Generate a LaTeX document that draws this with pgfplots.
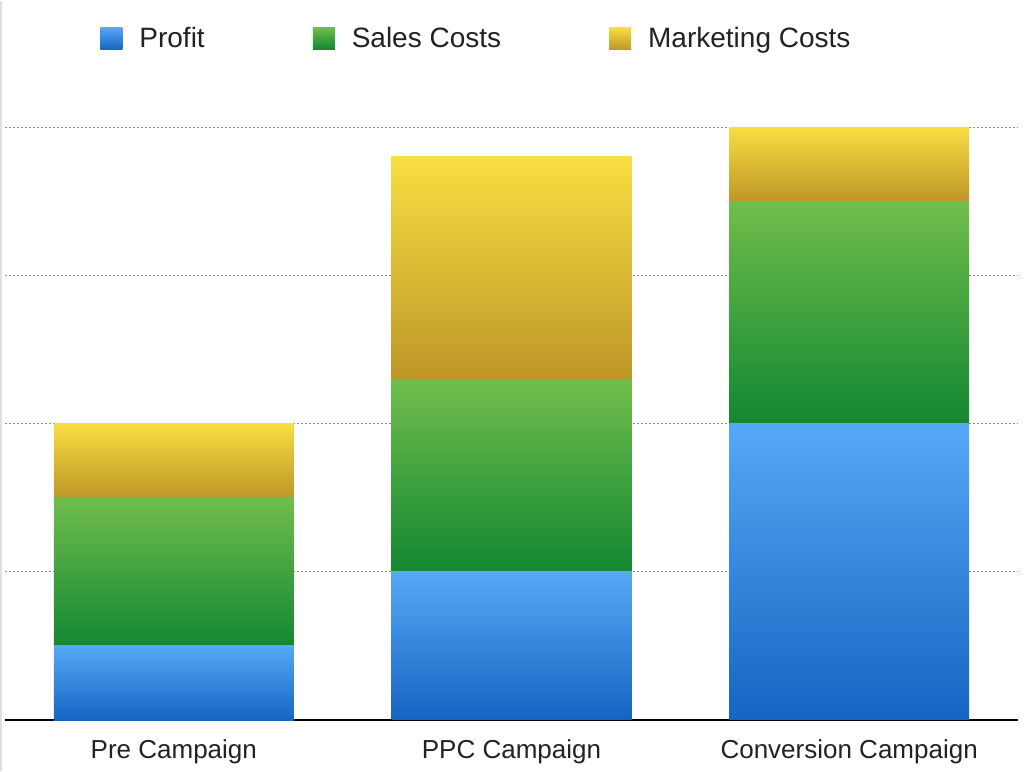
\documentclass[border=0pt]{standalone}
\usepackage{pgfplots}
\pgfplotsset{compat=1.18}
\usepackage{fontspec}
\setmainfont{Liberation Sans}
\usetikzlibrary{calc}

\definecolor{blueTop}{HTML}{55A9F6}
\definecolor{blueBot}{HTML}{1664C2}
\definecolor{greenTop}{HTML}{70BE4B}
\definecolor{greenBot}{HTML}{128732}
\definecolor{yelTop}{HTML}{F8DE42}
\definecolor{yelBot}{HTML}{BE9628}
\definecolor{txt}{HTML}{222222}

\pgfplotsset{
  sq legend/.style={legend image code/.code={\path[##1] (0bp,-5.5bp) rectangle (11bp,5.5bp);}},
  profit/.style={draw=none, top color=blueTop, bottom color=blueBot, sq legend},
  sales/.style={draw=none, top color=greenTop, bottom color=greenBot, sq legend},
  mkt/.style={draw=none, top color=yelTop, bottom color=yelBot, sq legend},
  % one axis per bar group, so that every segment gets its own gradient
  base/.style={
    scale only axis,
    width=506.5bp, height=359.5bp,
    ybar stacked, bar width=120bp,
    xmin=-0.5, xmax=2.5, ymin=0, ymax=4.85,
  },
  overlay axis/.style={base, hide axis, at={(ax.south west)}, anchor=south west},
}

\begin{document}
\begin{tikzpicture}
\begin{axis}[
  base,
  name=ax,
  xtick={0,1,2},
  xticklabels={Pre Campaign, PPC Campaign, Conversion Campaign},
  ytick={1,2,3,4}, yticklabels={},
  ymajorgrids,
  major grid style={gray!90, line width=0.5bp, dash pattern=on 1bp off 1bp},
  axis x line*=bottom, axis y line*=left,
  y axis line style={draw=none},
  x axis line style={black, line width=0.7bp, -},
  tick style={draw=none},
  xticklabel style={font=\fontsize{13bp}{15bp}\selectfont, text=txt, inner sep=0pt, yshift=-9.5bp},
  legend columns=3,
  legend style={draw=none, fill=none, inner sep=0pt,
    at={(rel axis cs:0.0938,0.9478)}, anchor=west,
    font=\fontsize{14bp}{16bp}\selectfont, text=txt,
    nodes={inner sep=0pt},
    /tikz/every odd column/.append style={column sep=8.5bp},
    /tikz/every even column/.append style={column sep=54bp}},
]
% Pre Campaign
\addplot[profit] coordinates {(0,0.5)};
\addplot[sales] coordinates {(0,1)};
\addplot[mkt] coordinates {(0,0.5)};
\legend{Profit, Sales Costs, Marketing Costs}
\end{axis}

% PPC Campaign
\begin{axis}[overlay axis]
\addplot[profit] coordinates {(1,1)};
\addplot[sales] coordinates {(1,1.3)};
\addplot[mkt] coordinates {(1,1.5)};
\end{axis}

% Conversion Campaign
\begin{axis}[overlay axis]
\addplot[profit] coordinates {(2,2)};
\addplot[sales] coordinates {(2,1.5)};
\addplot[mkt] coordinates {(2,0.5)};
\end{axis}

\pgfresetboundingbox
\path ($(ax.south west)+(-2.5bp,-25.5bp)$) rectangle ($(ax.north east)+(3bp,0)$);
\draw[gray!25, line width=1bp] ($(ax.south west)+(-2bp,-25.5bp)$) -- ($(ax.north west)+(-2bp,0)$);
\end{tikzpicture}
\end{document}
